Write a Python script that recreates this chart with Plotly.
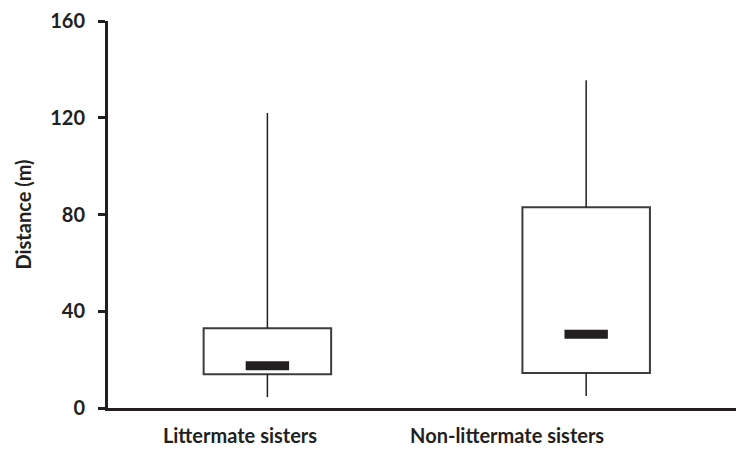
import plotly.graph_objects as go

# Distance between sisters (m): box-plot summary per group
groups = ["Littermate sisters", "Non-littermate sisters"]
positions = [1, 2]
whisker_low = [4.5, 5.0]
q1 = [14.0, 14.5]
median = [17.5, 30.5]
q3 = [33.0, 83.0]
whisker_high = [122.0, 135.5]

y_ticks = [0, 40, 80, 120, 160]

ink = "#231f20"
box_line = "#3c3c3c"
font_family = "Lato, 'Open Sans', sans-serif"
label_font = dict(family=font_family, size=20, color=ink, weight="bold")

fig = go.Figure()

# whiskers: lower (min -> Q1) and upper (Q3 -> max)
wx, wy = [], []
for p, lo, a, b, hi in zip(positions, whisker_low, q1, q3, whisker_high):
    wx += [p, p, None, p, p, None]
    wy += [lo, a, None, b, hi, None]
fig.add_trace(go.Scatter(
    x=wx, y=wy, mode="lines",
    line=dict(color=ink, width=1.5),
    hoverinfo="skip", showlegend=False,
))

# interquartile boxes
fig.add_trace(go.Bar(
    x=positions,
    base=q1,
    y=[b - a for a, b in zip(q1, q3)],
    width=0.4,
    marker=dict(color="white", line=dict(color=box_line, width=2)),
    showlegend=False,
))

# medians as short thick bars
fig.add_trace(go.Scatter(
    x=positions, y=median, mode="markers",
    marker=dict(symbol="line-ew", size=31, line=dict(width=9, color=ink)),
    showlegend=False,
))

fig.update_layout(
    width=736, height=454,
    margin=dict(l=108, r=0, t=21, b=46),
    paper_bgcolor="white", plot_bgcolor="white",
    font=label_font,
    xaxis=dict(
        range=[0.5, 2.47],
        tickmode="array",
        tickvals=[0.914, 1.752],
        ticktext=groups,
        ticks="", showgrid=False, zeroline=False,
        showline=True, linecolor=ink, linewidth=3,
        tickfont=label_font,
        ticklabelstandoff=8,
    ),
    yaxis=dict(
        range=[0, 160],
        tickmode="array",
        tickvals=y_ticks,
        ticks="outside", ticklen=7, tickwidth=3, tickcolor=ink,
        showgrid=False, zeroline=False,
        showline=True, linecolor=ink, linewidth=3,
        tickfont=label_font,
        ticklabelstandoff=9,
        title=dict(text="Distance (m)", standoff=14, font=label_font),
    ),
)

fig.write_html("out.html")
